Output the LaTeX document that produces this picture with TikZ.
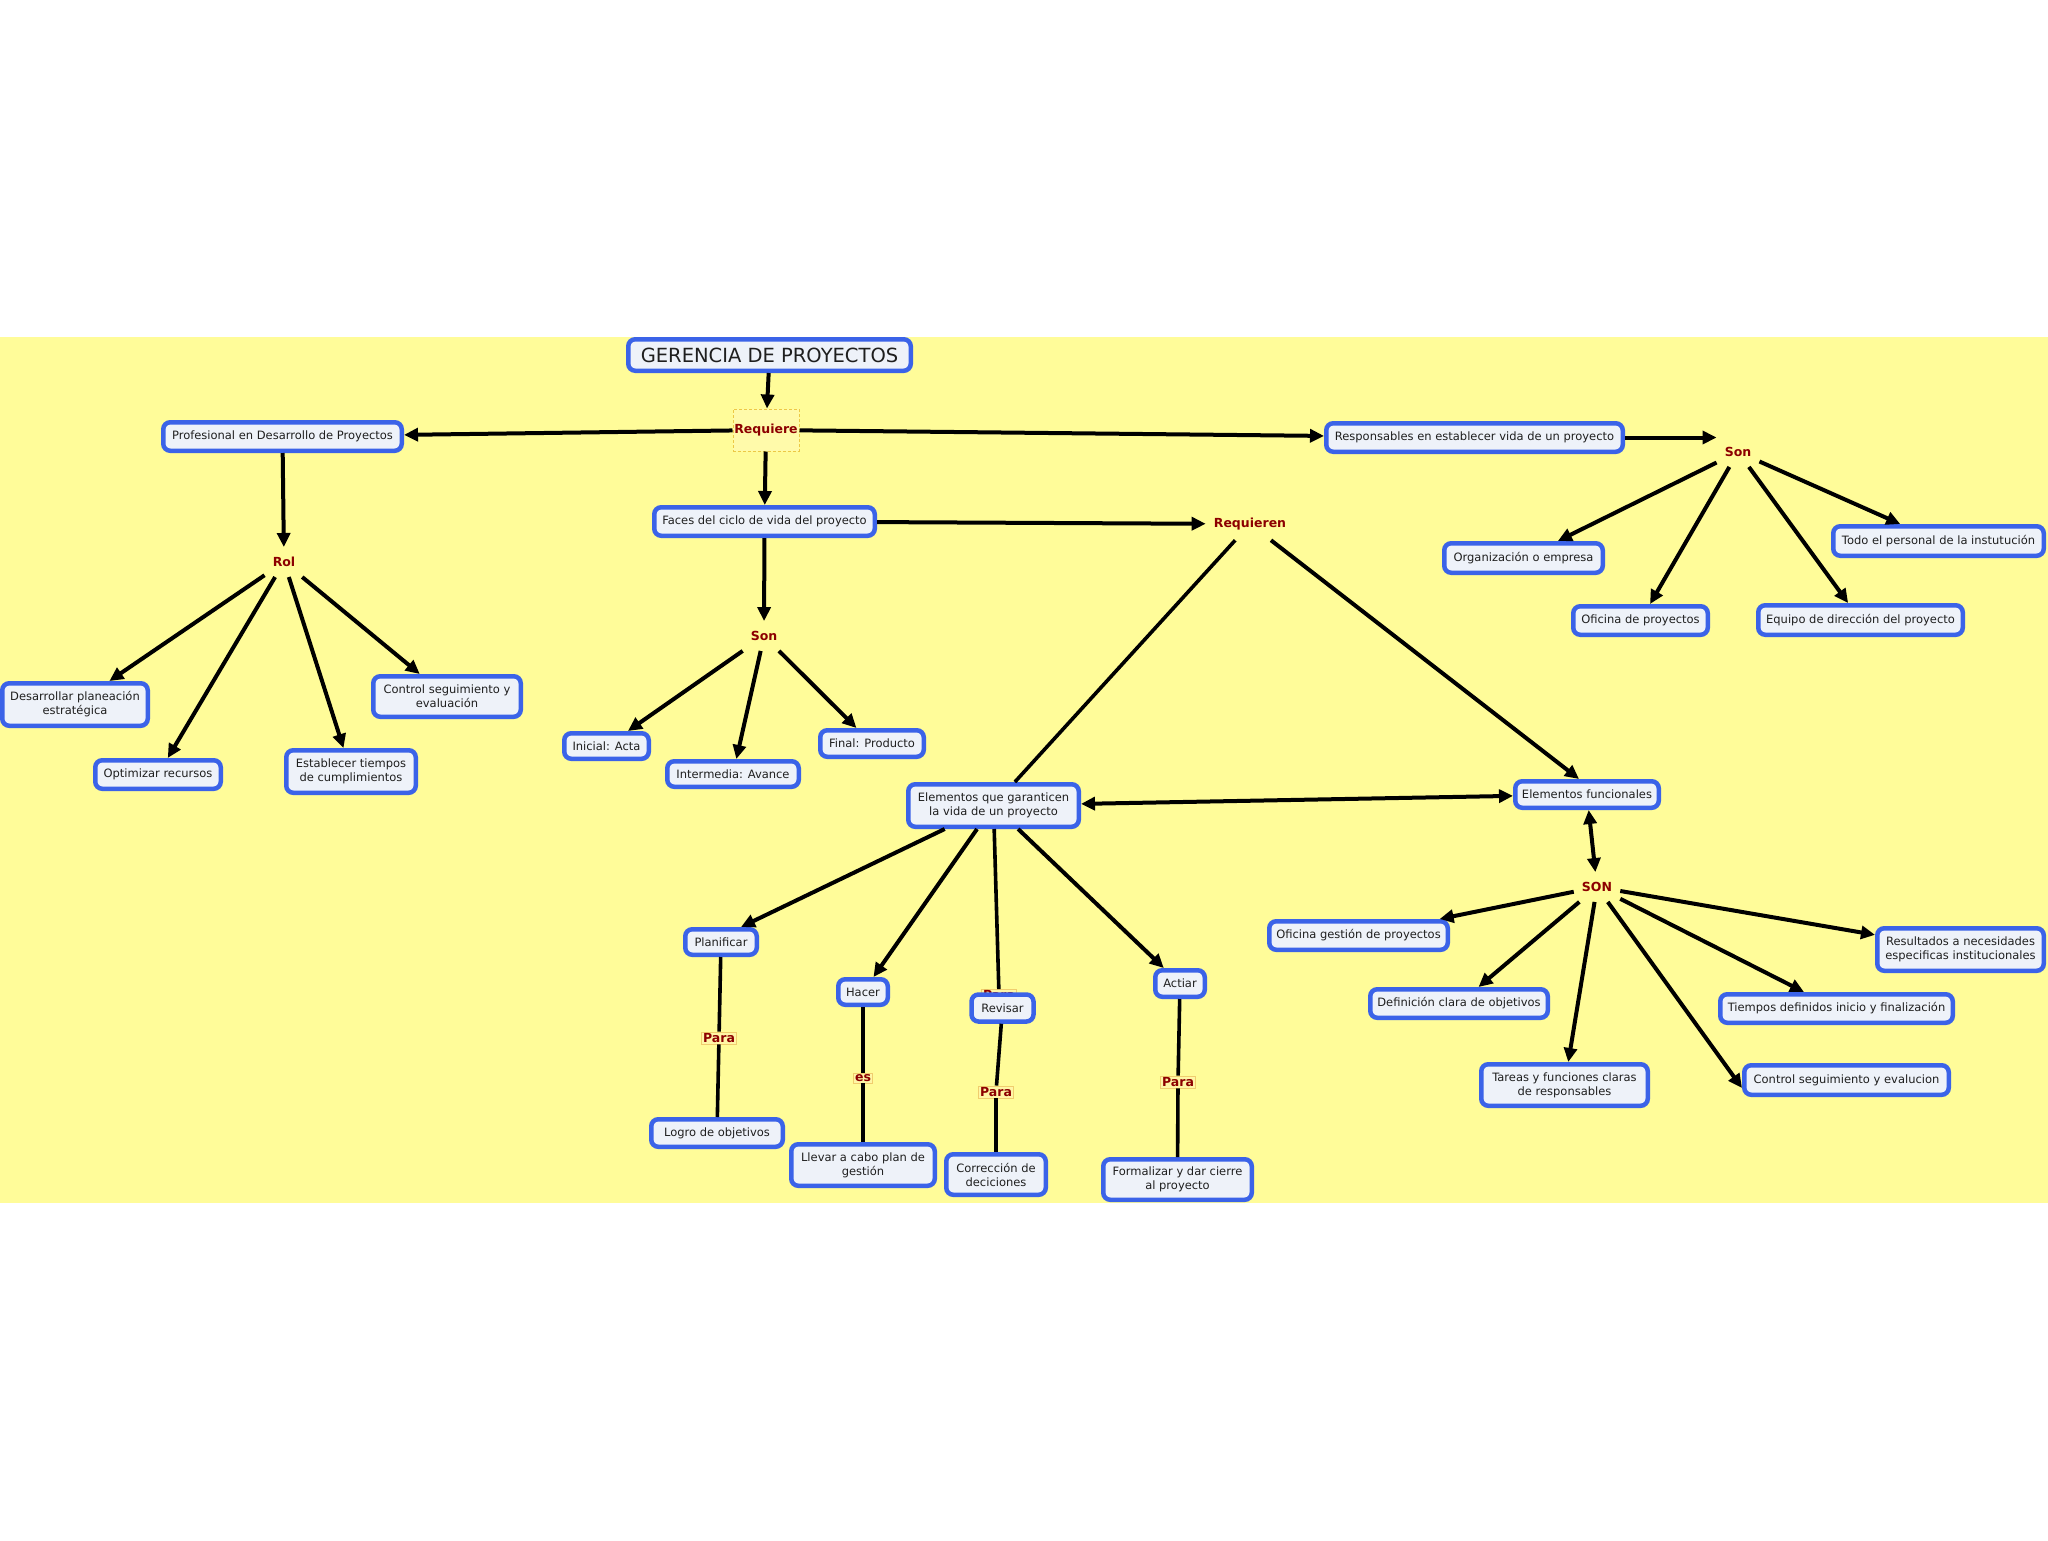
\documentclass[tikz,border=0pt]{standalone}
\usepackage{fontspec}
\setmainfont{DejaVu Sans}
\usetikzlibrary{arrows.meta}
\definecolor{bandyellow}{RGB}{255,252,153}
\definecolor{boxblue}{RGB}{59,99,232}
\definecolor{boxfill}{RGB}{238,242,249}
\definecolor{linkred}{RGB}{140,0,0}
\definecolor{lpfill}{RGB}{255,246,165}
\definecolor{lpdraw}{RGB}{240,205,110}
\definecolor{dashcol}{RGB}{236,200,70}
\definecolor{reqfill}{RGB}{255,250,170}
\tikzset{
  cbox/.style={draw=boxblue, line width=4.5pt, fill=boxfill, rounded corners=7pt,
    align=center, inner sep=0pt, text=black!88, font=\fontsize{11.5}{14}\selectfont},
  lp/.style={font=\bfseries\fontsize{12.5}{14}\selectfont, text=linkred, inner xsep=8pt, inner ysep=10pt},
  lpbox/.style={font=\bfseries\fontsize{12.5}{14}\selectfont, text=linkred, fill=lpfill,
    draw=lpdraw, line width=0.6pt, inner sep=1.5pt},
  reqbox/.style={font=\bfseries\fontsize{12.5}{14}\selectfont, text=linkred, fill=reqfill,
    draw=dashcol, line width=1pt, dash pattern=on 3pt off 2pt, inner sep=0pt,
    minimum width=66pt, minimum height=42pt},
  arr/.style={line width=4pt, -{Triangle[length=14pt,width=13pt]}},
  darr/.style={line width=4pt, {Triangle[length=14pt,width=13pt]}-{Triangle[length=14pt,width=13pt]}},
  ln/.style={line width=3.6pt},
}
\begin{document}
\begin{tikzpicture}[x=1pt,y=-1pt]
\useasboundingbox (0,0) rectangle (2048,1540);
\fill[white] (0,0) rectangle (2048,1540);
\fill[bandyellow] (0,337) rectangle (2048,1203);

% main nodes
\node[cbox, minimum width=282.5pt, minimum height=31.5pt, font=\fontsize{19.5}{22}\selectfont] (ger) at (769.5,355) {GERENCIA DE PROYECTOS};
\node[reqbox] (req) at (766,430) {Requiere};
\node[cbox, minimum width=238.5pt, minimum height=28.5pt] (prof) at (282.5,436.5) {Profesional en Desarrollo de Proyectos};
\node[cbox, minimum width=220.5pt, minimum height=28.5pt] (faces) at (764.5,521.5) {Faces del ciclo de vida del proyecto};
\node[cbox, minimum width=296.5pt, minimum height=28.5pt] (resp) at (1474.5,437.5) {Responsables en establecer vida de un proyecto};

% linking phrases
\node[lp] (rol) at (284,562) {Rol};
\node[lp] (sonA) at (764,636) {Son};
\node[lp] (sonB) at (1738,452) {Son};
\node[lp] (reqn) at (1250,524) {Requieren};
\node[lp] (SON) at (1597,887) {SON};

% Rol children
\node[cbox, minimum width=145.5pt, minimum height=42.5pt] (desa) at (75,704.5) {Desarrollar planeación\\estratégica};
\node[cbox, minimum width=147.5pt, minimum height=40.5pt] (ctrlA) at (447,696.5) {Control seguimiento y\\evaluación};
\node[cbox, minimum width=125.5pt, minimum height=28.5pt] (opti) at (158,774.5) {Optimizar recursos};
\node[cbox, minimum width=129.5pt, minimum height=42.5pt] (estab) at (351,771.5) {Establecer tiempos\\de cumplimientos};

% Faces children
\node[cbox, minimum width=84.5pt, minimum height=25.5pt] (ini) at (606.5,746) {Inicial: Acta};
\node[cbox, minimum width=131.5pt, minimum height=25.5pt] (inter) at (733,774) {Intermedia: Avance};
\node[cbox, minimum width=103.5pt, minimum height=26.5pt] (fin) at (872,743.5) {Final: Producto};

% Responsables children
\node[cbox, minimum width=158.5pt, minimum height=29.5pt] (org) at (1523.5,558) {Organización o empresa};
\node[cbox, minimum width=210.5pt, minimum height=29.5pt] (todo) at (1938.5,541) {Todo el personal de la instutución};
\node[cbox, minimum width=134.5pt, minimum height=28.5pt] (ofp) at (1640.5,620.5) {Oficina de proyectos};
\node[cbox, minimum width=204.5pt, minimum height=29.5pt] (equ) at (1860.5,620) {Equipo de dirección del proyecto};

% Elementos
\node[cbox, minimum width=170.5pt, minimum height=42.5pt] (eg) at (993.5,805.5) {Elementos que garanticen\\la vida de un proyecto};
\node[cbox, minimum width=143.5pt, minimum height=26.5pt] (ef) at (1587,794.5) {Elementos funcionales};

% PHVA
\node[cbox, minimum width=71.5pt, minimum height=25.5pt] (plan) at (721,942) {Planificar};
\node[cbox, minimum width=49.5pt, minimum height=25.5pt] (hacer) at (863,992) {Hacer};
\node[lpbox] (revlbl) at (999,995.5) {Para};
\node[cbox, minimum width=62pt, minimum height=27pt] (rev) at (1002.5,1008) {Revisar};
\node[cbox, minimum width=49.5pt, minimum height=26.5pt] (act) at (1180,983.5) {Actiar};

\node[lpbox] (para1) at (719,1038) {Para};
\node[lpbox] (es) at (863,1078) {es};
\node[lpbox] (para2) at (996,1092) {Para};
\node[lpbox] (para3) at (1178,1082) {Para};

\node[cbox, minimum width=131.5pt, minimum height=27.5pt] (logro) at (717,1133) {Logro de objetivos};
\node[cbox, minimum width=143.5pt, minimum height=41.5pt] (llevar) at (863,1165) {Llevar a cabo plan de\\gestión};
\node[cbox, minimum width=99.5pt, minimum height=40.5pt] (corr) at (996,1174.5) {Corrección de\\deciciones};
\node[cbox, minimum width=148.5pt, minimum height=40.5pt] (form) at (1177.5,1179.5) {Formalizar y dar cierre\\al proyecto};

% SON children
\node[cbox, minimum width=178.5pt, minimum height=28.5pt] (ofg) at (1358.5,935.5) {Oficina gestión de proyectos};
\node[cbox, minimum width=177.5pt, minimum height=28.5pt] (defi) at (1459,1003.5) {Definición clara de objetivos};
\node[cbox, minimum width=166.5pt, minimum height=41.5pt] (tareas) at (1564.5,1085) {Tareas y funciones claras\\de responsables};
\node[cbox, minimum width=204.5pt, minimum height=29.5pt] (ctrlB) at (1846.5,1080) {Control seguimiento y evalucion};
\node[cbox, minimum width=232.5pt, minimum height=28.5pt] (tiem) at (1836.5,1008.5) {Tiempos definidos inicio y finalización};
\node[cbox, minimum width=166.5pt, minimum height=42.5pt] (resu) at (1960.5,949.5) {Resultados a necesidades\\especificas institucionales};

% connectors
\draw[arr] (ger) -- (req);
\draw[arr] (req) -- (prof);
\draw[arr] (req) -- (resp);
\draw[arr] (req) -- (faces);
\draw[arr] (prof) -- (rol);
\draw[arr] (rol) -- (desa);
\draw[arr] (rol) -- (opti);
\draw[arr] (rol) -- (estab);
\draw[arr] (rol) -- (ctrlA);
\draw[arr] (faces) -- (sonA);
\draw[arr] (sonA) -- (ini);
\draw[arr] (sonA) -- (inter);
\draw[arr] (sonA) -- (fin);
\draw[arr] (faces) -- (reqn);
\draw[arr] (resp.east) -- (resp.east -| sonB.west);
\draw[arr] (sonB) -- (org);
\draw[arr] (sonB) -- (ofp);
\draw[arr] (sonB) -- (equ);
\draw[arr] (sonB) -- (todo);
\draw[ln] (reqn) -- (eg);
\draw[arr] (reqn) -- ([xshift=-8pt]ef.north);
\draw[darr] (eg) -- (ef);
\draw[darr] (ef) -- (SON);
\draw[arr] (SON) -- (ofg);
\draw[arr] (SON) -- (defi);
\draw[arr] (SON) -- (tareas);
\draw[arr] (SON) -- ([yshift=-8pt]ctrlB.west);
\draw[arr] (SON) -- (tiem);
\draw[arr] (SON) -- (resu);
\draw[arr] (eg) -- ([xshift=20pt]plan.north);
\draw[arr] (eg) -- (hacer);
\draw[ln] (eg) -- (revlbl);
\draw[arr] (eg) -- (act);
\draw[ln] (plan) -- (para1);
\draw[ln] (para1) -- (logro);
\draw[ln] (hacer) -- (es);
\draw[ln] (es) -- (llevar);
\draw[ln] (rev) -- (para2);
\draw[ln] (para2) -- (corr);
\draw[ln] (act) -- (para3);
\draw[ln] (para3) -- (form);
\end{tikzpicture}
\end{document}
